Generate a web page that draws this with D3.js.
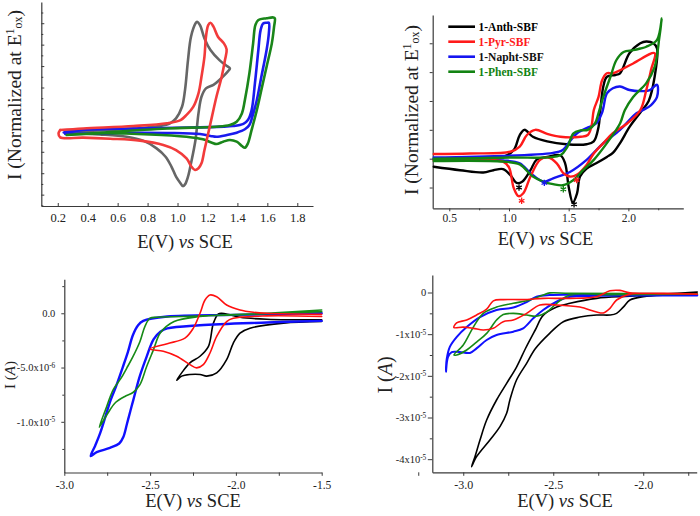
<!DOCTYPE html>
<html><head><meta charset="utf-8">
<script src="https://cdn.jsdelivr.net/npm/d3@7"></script>
<style>
body{margin:0;background:#fff}
svg{display:block}
text{font-family:"Liberation Serif","Times New Roman",serif}
</style>
</head><body>
<svg id="c" width="700" height="516"></svg>
<script>
// ===== Panel A (top-left): normalized oxidation CVs, E (V vs SCE), I (ticks only) =====
const aXTicks = [0.2,0.4,0.6,0.8,1.0,1.2,1.4,1.6,1.8];
const aXLabels = ["0.2","0.4","0.6","0.8","1.0","1.2","1.4","1.6","1.8"];
const aYMajor = [-3,-2,-1,0,1,2,3,4,5];
const aYMinor = [-3.5,-2.5,-1.5,-0.5,0.5,1.5,2.5,3.5,4.5,5.5];
const aAnth = [[0.25,-0.06],[0.48,0],[0.705,0.08],[0.88,0.2],[0.95,0.33],[0.99,0.56],[1.03,1.1],[1.05,1.88],[1.07,3.28],[1.09,4.37],[1.12,4.99],[1.13,5.07],[1.15,4.91],[1.18,4.29],[1.22,3.75],[1.28,3.28],[1.33,3.0],[1.35,2.89],[1.34,2.78],[1.28,2.35],[1.24,2.12],[1.19,1.96],[1.16,1.57],[1.14,0.79],[1.12,-0.45],[1.09,-1.54],[1.07,-2.16],[1.05,-2.52],[1.035,-2.6],[1.02,-2.47],[0.99,-2.16],[0.96,-1.7],[0.92,-1.23],[0.86,-0.84],[0.77,-0.48],[0.66,-0.3],[0.48,-0.19],[0.35,-0.14],[0.25,-0.1]];
const aPyr = [[0.216,0.02],[0.37,0.09],[0.705,0.2],[0.93,0.33],[1.02,0.48],[1.06,0.72],[1.105,1.1],[1.14,1.73],[1.16,2.5],[1.18,3.44],[1.19,4.37],[1.205,4.91],[1.22,5.02],[1.24,4.84],[1.27,4.37],[1.31,4.06],[1.328,3.78],[1.317,3.28],[1.295,2.5],[1.26,1.57],[1.23,0.64],[1.205,-0.14],[1.18,-0.92],[1.16,-1.54],[1.14,-1.77],[1.117,-1.85],[1.094,-1.7],[1.06,-1.31],[0.99,-0.92],[0.905,-0.68],[0.75,-0.48],[0.55,-0.39],[0.37,-0.34],[0.216,-0.33],[0.205,-0.15],[0.216,0.02]];
const aNapht = [[0.24,-0.1],[0.37,0.02],[0.705,0.09],[1.15,0.14],[1.37,0.2],[1.44,0.3],[1.47,0.48],[1.495,0.95],[1.517,2.19],[1.54,3.75],[1.555,4.68],[1.572,4.99],[1.595,5.02],[1.61,5.02],[1.61,4.53],[1.595,3.75],[1.56,2.5],[1.53,1.42],[1.5,0.64],[1.48,0.25],[1.45,0.05],[1.395,-0.11],[1.33,-0.22],[1.26,-0.3],[1.22,-0.26],[1.15,-0.17],[0.93,-0.12],[0.705,-0.11],[0.48,-0.14],[0.25,-0.17]];
const aPhen = [[0.26,-0.22],[0.48,-0.11],[0.93,0.09],[1.26,0.17],[1.35,0.25],[1.395,0.4],[1.43,0.79],[1.45,1.42],[1.48,2.66],[1.505,4.06],[1.52,4.91],[1.54,5.15],[1.595,5.23],[1.64,5.27],[1.65,5.23],[1.645,4.84],[1.63,4.06],[1.595,2.97],[1.56,1.88],[1.53,0.95],[1.495,0.02],[1.47,-0.61],[1.45,-0.81],[1.43,-0.73],[1.395,-0.53],[1.35,-0.45],[1.305,-0.53],[1.26,-0.64],[1.23,-0.58],[1.17,-0.42],[1.06,-0.3],[0.816,-0.19],[0.48,-0.14],[0.26,-0.22]];

// ===== Panel B (top-right): normalized CVs with legend =====
const bNames = ["1-Anth-SBF","1-Pyr-SBF","1-Napht-SBF","1-Phen-SBF"];
const bXTicks = [0.5,1.0,1.5,2.0];
const bXLabels = ["0.5","1.0","1.5","2.0"];
const bXMinor = [0.75,1.25,1.75,2.25];
const bYTicks = [-0.5,0,0.5,1,1.5,2];
const bAnth = [[0.37,-0.01],[0.95,0.03],[1.04,0.15],[1.09,0.41],[1.13,0.5],[1.2,0.38],[1.32,0.3],[1.48,0.25],[1.65,0.25],[1.71,0.3],[1.75,0.55],[1.765,0.84],[1.79,1.25],[1.82,1.42],[1.89,1.45],[1.93,1.48],[2.01,1.83],[2.10,2.0],[2.15,2.03],[2.21,2.0],[2.24,1.91],[2.22,1.42],[2.17,1.0],[2.10,0.8],[2.01,0.55],[1.93,0.27],[1.87,0.1],[1.82,0.03],[1.73,-0.08],[1.65,-0.17],[1.595,-0.31],[1.57,-0.6],[1.535,-0.76],[1.50,-0.49],[1.47,-0.08],[1.43,0.06],[1.32,0.03],[1.23,-0.02],[1.18,-0.2],[1.11,-0.4],[1.065,-0.42],[1.01,-0.28],[0.95,-0.18],[0.87,-0.2],[0.785,-0.24],[0.59,-0.2],[0.37,-0.14]];
const bPyr = [[0.37,0.08],[0.67,0.09],[1.01,0.12],[1.09,0.21],[1.15,0.41],[1.22,0.5],[1.32,0.43],[1.43,0.38],[1.60,0.38],[1.66,0.41],[1.69,0.55],[1.71,0.84],[1.75,1.07],[1.78,1.36],[1.82,1.48],[1.87,1.48],[2.04,1.65],[2.22,1.83],[2.19,1.54],[2.15,1.19],[2.10,0.84],[1.99,0.61],[1.87,0.44],[1.79,0.27],[1.71,0.09],[1.65,-0.11],[1.575,-0.27],[1.51,-0.31],[1.455,-0.25],[1.40,-0.08],[1.33,0.02],[1.26,-0.02],[1.18,-0.31],[1.12,-0.6],[1.08,-0.65],[1.04,-0.51],[1.0,-0.15],[0.95,-0.05],[0.37,-0.03]];
const bNapht = [[0.37,0.02],[1.37,0.1],[1.45,0.15],[1.51,0.3],[1.57,0.44],[1.65,0.53],[1.73,0.61],[1.78,0.8],[1.82,1.13],[1.87,1.22],[1.93,1.25],[2.01,1.19],[2.10,1.17],[2.18,1.19],[2.24,1.28],[2.24,1.07],[2.19,0.93],[2.12,0.84],[2.07,0.79],[1.93,0.5],[1.79,0.27],[1.65,-0.02],[1.51,-0.23],[1.37,-0.34],[1.29,-0.4],[1.18,-0.25],[1.09,-0.08],[0.95,-0.03],[0.37,0]];
const bPhen = [[0.37,0.0],[1.0,0.02],[1.43,0.06],[1.49,0.21],[1.54,0.44],[1.60,0.49],[1.66,0.5],[1.72,0.61],[1.75,0.79],[1.79,1.07],[1.85,1.42],[1.90,1.71],[1.96,1.85],[2.04,1.88],[2.10,1.91],[2.15,1.94],[2.24,2.06],[2.28,2.43],[2.26,2.11],[2.22,1.59],[2.15,1.31],[2.04,1.07],[1.97,0.84],[1.93,0.61],[1.82,0.27],[1.71,-0.02],[1.62,-0.2],[1.54,-0.37],[1.45,-0.46],[1.37,-0.44],[1.29,-0.4],[1.2,-0.31],[1.09,-0.1],[0.95,-0.05],[0.37,-0.04]];
const bMarkE = [1.084,1.106,1.296,1.455,1.545,1.567];
const bMarkI = [-0.5,-0.73,-0.42,-0.53,-0.79,-0.37];
const bMarkSeries = [0,1,2,3,0,1];

// ===== Panel C (bottom-left): reduction CVs, I in microamps =====
const cXTicks = [-3.0,-2.5,-2.0,-1.5];
const cXLabels = ["-3.0","-2.5","-2.0","-1.5"];
const cXMinor = [-2.75,-2.25,-1.75];
const cYTicks = [0,-5,-10];
const cYLabels = [["0.0",""],["-5.0x10","-6"],["-1.0x10","-5"]];
const cYMinor = [2.5,-2.5,-7.5,-12.5];
const cAnth = [[-1.5,-0.76],[-1.723,-0.91],[-1.918,-1.37],[-1.976,-1.83],[-2.015,-2.74],[-2.054,-4.27],[-2.112,-5.49],[-2.17,-5.79],[-2.209,-5.64],[-2.268,-5.64],[-2.316,-5.79],[-2.345,-6.16],[-2.316,-5.49],[-2.268,-4.57],[-2.209,-3.96],[-2.16,-3.05],[-2.131,-0.91],[-2.102,-0.06],[-2.083,0],[-2.034,-0.15],[-1.976,-0.37],[-1.82,-0.55],[-1.5,-0.61]];
const cPyr = [[-1.5,-0.3],[-1.82,-0.24],[-2.015,-0.46],[-2.054,-0.76],[-2.112,-2.13],[-2.151,-3.66],[-2.19,-4.73],[-2.229,-5.03],[-2.268,-4.73],[-2.345,-3.96],[-2.423,-3.5],[-2.5,-3.29],[-2.4,-2.8],[-2.297,-2.29],[-2.248,-1.37],[-2.209,0],[-2.18,1.22],[-2.151,1.68],[-2.112,1.52],[-2.054,0.76],[-1.976,0.3],[-1.898,0.09],[-1.82,0],[-1.5,-0.1]];
const cNapht = [[-1.5,0],[-2.01,-0.15],[-2.4,-0.3],[-2.54,-0.7],[-2.57,-1.1],[-2.6,-2.0],[-2.63,-3.6],[-2.66,-5.0],[-2.7,-6.8],[-2.73,-8.0],[-2.79,-11.0],[-2.82,-12.2],[-2.846,-13.15],[-2.811,-12.8],[-2.734,-12.4],[-2.68,-12.0],[-2.656,-11.4],[-2.635,-10.2],[-2.615,-9.0],[-2.598,-8.0],[-2.56,-5.8],[-2.52,-4.0],[-2.48,-2.4],[-2.44,-1.7],[-2.4,-1.4],[-2.21,-1.1],[-1.82,-0.85],[-1.5,-0.7]];
const cPhen = [[-1.5,0.3],[-1.82,0],[-2.21,-0.3],[-2.36,-0.76],[-2.44,-1.8],[-2.48,-3.35],[-2.52,-4.9],[-2.56,-6.6],[-2.6,-7.3],[-2.64,-7.6],[-2.7,-8.2],[-2.75,-9.3],[-2.796,-10.5],[-2.76,-8.9],[-2.714,-7.0],[-2.67,-6.0],[-2.636,-5.05],[-2.6,-4.0],[-2.559,-2.6],[-2.53,-1.2],[-2.5,-0.45],[-2.46,-0.37],[-2.31,-0.3],[-2.01,-0.15],[-1.5,0.15]];

// ===== Panel D (bottom-right): reduction CVs, I in 1e-5 A =====
const dXTicks = [-3.0,-2.5,-2.0];
const dXLabels = ["-3.0","-2.5","-2.0"];
const dXMinor = [-3.25,-2.75,-2.25,-1.75];
const dYTicks = [0,-1,-2,-3,-4];
const dYLabels = [["0",""],["-1x10","-5"],["-2x10","-5"],["-3x10","-5"],["-4x10","-5"]];
const dYMinor = [-0.5,-1.5,-2.5,-3.5];
const dAnth = [[-1.70,-0.04],[-2.0,-0.1],[-2.074,-0.18],[-2.111,-0.35],[-2.148,-0.5],[-2.185,-0.54],[-2.259,-0.54],[-2.352,-0.59],[-2.444,-0.7],[-2.52,-0.98],[-2.6,-1.35],[-2.648,-1.7],[-2.704,-2.1],[-2.741,-2.58],[-2.759,-2.9],[-2.796,-3.22],[-2.852,-3.54],[-2.926,-3.94],[-2.954,-4.18],[-2.935,-3.94],[-2.907,-3.54],[-2.87,-3.06],[-2.815,-2.58],[-2.759,-2.18],[-2.704,-1.79],[-2.655,-1.35],[-2.6,-0.9],[-2.556,-0.55],[-2.481,-0.35],[-2.407,-0.26],[-2.259,-0.14],[-2.074,-0.09],[-1.889,-0.04],[-1.70,0.01]];
const dPyr = [[-1.70,-0.04],[-1.889,-0.03],[-2.074,-0.04],[-2.148,-0.18],[-2.185,-0.38],[-2.222,-0.49],[-2.259,-0.47],[-2.352,-0.35],[-2.481,-0.3],[-2.574,-0.3],[-2.648,-0.5],[-2.722,-0.66],[-2.778,-0.7],[-2.833,-0.86],[-2.889,-0.9],[-2.944,-0.86],[-3.0,-0.83],[-3.052,-0.84],[-3.037,-0.73],[-2.981,-0.66],[-2.926,-0.54],[-2.87,-0.4],[-2.833,-0.2],[-2.778,-0.17],[-2.667,-0.17],[-2.556,-0.14],[-2.407,-0.14],[-2.259,-0.1],[-2.185,0.04],[-2.129,0.05],[-2.074,-0.01],[-1.889,-0.02],[-1.70,-0.04]];
const dNapht = [[-1.70,-0.07],[-2.26,-0.08],[-2.407,-0.1],[-2.463,-0.18],[-2.556,-0.42],[-2.611,-0.62],[-2.667,-0.86],[-2.722,-0.94],[-2.815,-1.02],[-2.87,-1.14],[-2.926,-1.34],[-2.963,-1.45],[-3.019,-1.43],[-3.064,-1.43],[-3.085,-1.55],[-3.096,-1.9],[-3.092,-1.6],[-3.074,-1.3],[-3.037,-1.07],[-2.981,-0.83],[-2.907,-0.59],[-2.815,-0.42],[-2.722,-0.36],[-2.648,-0.23],[-2.593,-0.1],[-2.519,-0.06],[-2.26,-0.06],[-1.70,-0.05]];
const dPhen = [[-1.70,-0.04],[-2.2,-0.05],[-2.407,-0.06],[-2.481,-0.26],[-2.537,-0.47],[-2.593,-0.57],[-2.648,-0.54],[-2.722,-0.5],[-2.778,-0.53],[-2.815,-0.66],[-2.87,-0.98],[-2.926,-1.19],[-2.981,-1.38],[-3.037,-1.5],[-3.052,-1.5],[-3.0,-1.26],[-2.944,-0.83],[-2.889,-0.5],[-2.815,-0.35],[-2.722,-0.26],[-2.63,-0.18],[-2.556,-0.06],[-2.519,-0.01],[-2.41,-0.02],[-1.70,-0.03]];

// ===== Drawing =====
const svg = d3.select("#c");
const AX = "#3a3a3a";
const curve = d3.curveCatmullRom.alpha(0.5);

function styleAxis(g, fs){
  g.select(".domain").attr("stroke", AX).attr("stroke-width", 1.2);
  g.selectAll(".tick line").attr("stroke", AX).attr("stroke-width", 1);
  g.selectAll(".tick text").attr("fill", "#222").attr("font-size", fs)
    .attr("font-family", '"Liberation Serif","Times New Roman",serif');
}

function panel(o){
  const x = d3.scaleLinear().domain(o.xd).range([o.L, o.R]);
  const y = d3.scaleLinear().domain(o.yd).range([o.B, o.T]);
  const g = svg.append("g");
  if (o.xMinor) {
    const m = g.append("g").attr("transform", `translate(0,${o.B})`)
      .call(d3.axisBottom(x).tickValues(o.xMinor).tickFormat("").tickSizeInner(o.xMinorSize).tickSizeOuter(0));
    m.select(".domain").remove();
    m.selectAll(".tick line").attr("stroke", AX);
  }
  if (o.yMinor) {
    const m = g.append("g").attr("transform", `translate(${o.L},0)`)
      .call(d3.axisLeft(y).tickValues(o.yMinor).tickFormat("").tickSizeInner(o.yMinorSize).tickSizeOuter(0));
    m.select(".domain").remove();
    m.selectAll(".tick line").attr("stroke", AX);
  }
  const xa = g.append("g").attr("transform", `translate(0,${o.B})`)
    .call(d3.axisBottom(x).tickValues(o.xTicks).tickFormat((d,i)=>o.xLabels[i])
      .tickSizeInner(o.xTickSize).tickSizeOuter(0).tickPadding(o.xPad));
  styleAxis(xa, o.xfs);
  const ya = g.append("g").attr("transform", `translate(${o.L},0)`)
    .call(d3.axisLeft(y).tickValues(o.yTicks).tickFormat("")
      .tickSizeInner(o.yTickSize).tickSizeOuter(0).tickPadding(o.yPad));
  styleAxis(ya, o.yfs);
  if (o.yLabels) {
    ya.selectAll(".tick text").each(function(d,i){
      const t = d3.select(this);
      t.text(o.yLabels[i][0]);
      if (o.yLabels[i][1]) t.append("tspan").attr("dy", "-0.45em").attr("font-size", o.yfs*0.7).text(o.yLabels[i][1]);
    });
  }
  const line = d3.line().x(d=>x(d[0])).y(d=>y(d[1])).curve(curve);
  o.series.forEach(s=>{
    g.append("path").attr("d", line(s.data)).attr("fill","none")
      .attr("stroke", s.color).attr("stroke-width", s.w)
      .attr("stroke-linejoin","round").attr("stroke-linecap","round");
  });
  const xt = g.append("text").attr("x", o.xtX).attr("y", o.xtY).attr("text-anchor","middle")
    .attr("font-size", 18.5).attr("fill","#222");
  xt.append("tspan").text("E(V) ");
  xt.append("tspan").attr("font-style","italic").text("vs");
  xt.append("tspan").text(" SCE");
  return {x, y, g};
}

function normLabel(cx, cy){
  const t = svg.append("text").attr("transform", `translate(${cx},${cy}) rotate(-90)`)
    .attr("text-anchor","middle").attr("font-size", 19.5).attr("fill","#222");
  t.append("tspan").text("I (Normalized at E");
  t.append("tspan").attr("dy", -7).attr("font-size", 12).text("1");
  t.append("tspan").attr("dy", 8).attr("font-size", 12).text("ox");
  t.append("tspan").attr("dy", -1).text(")");
}
function ampLabel(cx, cy, fs){
  const t = svg.append("text").attr("transform", `translate(${cx},${cy}) rotate(-90)`)
    .attr("text-anchor","middle").attr("font-size", fs).attr("fill","#222");
  t.append("tspan").text("I (");
  t.append("tspan").attr("font-style","italic").text("A");
  t.append("tspan").text(")");
}

// Panel A
panel({xd:[0.09,1.905], yd:[-3.53,5.99], L:41.3, R:313, B:206, T:2,
  xTicks:aXTicks, xLabels:aXLabels, xTickSize:-3, xPad:7, xfs:12.5,
  yTicks:aYMajor, yTickSize:-3, yPad:2, yfs:10, yMinor:aYMinor, yMinorSize:-2,
  xtX:185, xtY:248,
  series:[
    {data:aAnth, color:"#666666", w:2.6},
    {data:aNapht, color:"#1a1aee", w:2.6},
    {data:aPhen, color:"#1a861a", w:2.6},
    {data:aPyr, color:"#f23b3b", w:2.6}
  ]});
normLabel(21, 95);

// Panel B
const bColors = ["#000000","#ff1a1a","#1515f0","#128312"];
const B = panel({xd:[0.361,2.46], yd:[-0.86,2.49], L:432.7, R:683.3, B:208.3, T:15,
  xTicks:bXTicks, xLabels:bXLabels, xTickSize:3, xPad:3, xfs:11.5, xMinor:bXMinor, xMinorSize:2,
  yTicks:bYTicks, yTickSize:3, yPad:2, yfs:10,
  xtX:545.5, xtY:245,
  series:[
    {data:bAnth, color:bColors[0], w:2.4},
    {data:bNapht, color:bColors[2], w:2.4},
    {data:bPyr, color:bColors[1], w:2.4},
    {data:bPhen, color:bColors[3], w:2.4}
  ]});
normLabel(418, 110);
// asterisk markers drawn as symbols
const star = d3.symbol().type(d3.symbolAsterisk).size(28);
bMarkE.forEach((e,i)=>{
  B.g.append("path").attr("d", star())
    .attr("transform", `translate(${B.x(e)},${B.y(bMarkI[i])})`)
    .attr("fill","none").attr("stroke", bColors[bMarkSeries[i]]).attr("stroke-width", 1.3);
});
const legTextColors = ["#000000","#ff1a1a","#111111","#128312"];
bNames.forEach((n,i)=>{
  const yy = 26.7 + i*15;
  svg.append("line").attr("x1",448.3).attr("x2",475).attr("y1",yy).attr("y2",yy)
    .attr("stroke", bColors[i]).attr("stroke-width", 2.6);
  svg.append("text").attr("x",478.5).attr("y",yy).attr("dy","0.35em")
    .attr("font-size",11.5).attr("font-weight","bold").attr("fill", legTextColors[i]).text(n);
});

// Panel C
panel({xd:[-3.0,-1.5], yd:[-14.67,3.13], L:64.3, R:321.7, B:472.5, T:279.3,
  xTicks:cXTicks, xLabels:cXLabels, xTickSize:3.3, xPad:5, xfs:11.5, xMinor:cXMinor, xMinorSize:3.3,
  yTicks:cYTicks, yLabels:cYLabels, yTickSize:3, yPad:6, yfs:10.5, yMinor:cYMinor, yMinorSize:2,
  xtX:193, xtY:506.5,
  series:[
    {data:cAnth, color:"#000000", w:1.6},
    {data:cNapht, color:"#1010ff", w:2.4},
    {data:cPhen, color:"#168a16", w:1.6},
    {data:cPyr, color:"#ff1010", w:1.6}
  ]});
ampLabel(15, 375, 15);

// Panel D
panel({xd:[-3.172,-1.703], yd:[-4.315,0.42], L:432.3, R:696.7, B:472.3, T:275,
  xTicks:dXTicks, xLabels:dXLabels, xTickSize:3.5, xPad:5, xfs:12, xMinor:dXMinor, xMinorSize:3.5,
  yTicks:dYTicks, yLabels:dYLabels, yTickSize:4.5, yPad:1.5, yfs:10.5, yMinor:dYMinor, yMinorSize:2.5,
  xtX:565, xtY:506.5,
  series:[
    {data:dAnth, color:"#000000", w:1.6},
    {data:dNapht, color:"#1010ff", w:2.0},
    {data:dPhen, color:"#168a16", w:1.6},
    {data:dPyr, color:"#ff1010", w:1.6}
  ]});
ampLabel(392, 375, 20);
</script>
</body></html>
